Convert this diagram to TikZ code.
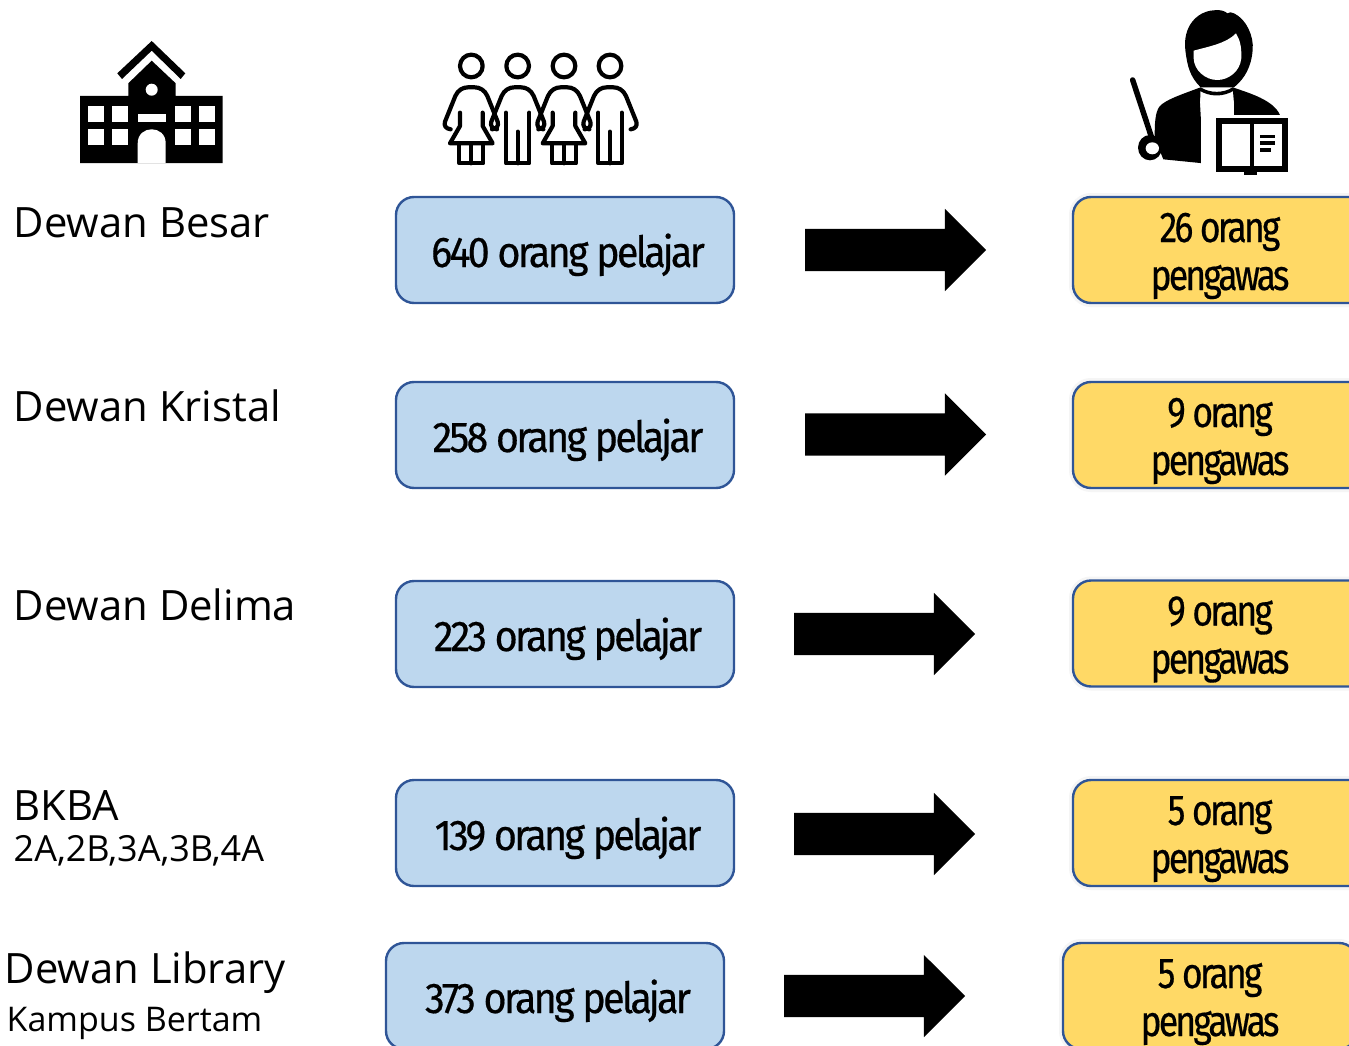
\documentclass[tikz,border=0pt]{standalone}
\usepackage{fontspec}
\setmainfont{Open Sans}
\newfontfamily\din[FakeStretch=0.92,LetterSpace=-6.5,FakeBold=0.4]{Fira Sans}
\newfontfamily\dinnarrow[FakeStretch=0.824,LetterSpace=-6.5,FakeBold=0.4]{Fira Sans}
\usetikzlibrary{shapes.arrows}
\definecolor{bluefill}{HTML}{BDD7EE}
\definecolor{yellowfill}{HTML}{FFD966}
\definecolor{boxedge}{HTML}{2F5597}
\newcommand\oneline[1]{\rule{0pt}{34pt}\hspace{6pt}\smash{#1}}
\newcommand\twolines[2]{\rule{0pt}{32pt}\smash{#1}\\\smash{#2}}
\tikzset{
  countbox/.style={draw=boxedge,line width=2.4pt,rounded corners=18pt,minimum height=106pt,inner sep=0pt,text=black,align=center},
  pupilbox/.style={countbox,font=\din\fontsize{43}{48}\selectfont,fill=bluefill,minimum width=338pt},
  wardenbox/.style={countbox,font=\dinnarrow\fontsize{43}{48}\selectfont,fill=yellowfill,minimum width=294pt,preaction={draw=black!4,line width=8pt}},
  blockarrow/.style={single arrow,anchor=tail,fill=black,draw=none,inner xsep=0pt,inner ysep=21pt,outer sep=0pt,minimum width=82pt,minimum height=181pt,single arrow head extend=20pt},
  biglabel/.style={anchor=base west,inner sep=0pt,font=\fontsize{41.8}{48}\selectfont},
  midlabel/.style={anchor=base west,inner sep=0pt,font=\fontsize{36}{40}\selectfont},
  smalllabel/.style={anchor=base west,inner sep=0pt,font=\fontsize{34}{40}\selectfont},
  stroke/.style={draw=black,line width=4.2pt,line cap=round,line join=round},
}
\begin{document}
\begin{tikzpicture}[x=1pt,y=-1pt]
\clip (0,0) rectangle (1349,1046);
\fill[white] (0,0) rectangle (1349,1046);
% school
\fill[black] (151.7,41)--(185.3,73.3)--(180.7,79)--(151.7,50.7)--(122,79)--(117.3,73.3)--cycle;
\fill[black] (80,96)--(128.3,96)--(128.3,83.3)--(151.7,60.7)--(175.7,83.3)--(175.7,96)--(222.7,96)--(222.7,163)--(80,163)--cycle;
\fill[white] (137.7,163)--(137.7,143.3) .. controls (137.7,124.6) and (165.7,124.6) .. (165.7,143.3)--(165.7,163)--cycle;
\fill[white] (151.7,89.7) circle[radius=6];
\foreach \wx in {88.3,112,175.3,199}\foreach \wy in {105.7,129.3}\fill[white] (\wx,\wy) rectangle ++(16,16);
\fill[white] (137.7,113.7) rectangle (165.7,121.7);
% pupils
\begin{scope}[shift={(430,40)},x=0.3333pt,y=-0.3333pt]
\foreach \cx in {124,263,402,540}{
  \draw[stroke] (\cx,78) circle[radius=34];
  \begin{scope}[shift={(\cx,0)}]
  \draw[stroke] (-62,268) .. controls (-76,266) and (-83,258) .. (-79,245) -- (-48,168) .. controls (-40,150) and (-25,142) .. (-10,142) -- (10,142) .. controls (25,142) and (40,150) .. (48,168) -- (79,245) .. controls (83,258) and (76,266) .. (62,268);
  \end{scope}
}
\foreach \cx in {124,402}{
  \begin{scope}[shift={(\cx,0)}]
  \draw[stroke] (-34,218)--(-34,258)--(-64,310)--(64,310)--(34,258)--(34,218);
  \draw[stroke] (-36,310)--(-36,370)--(36,370)--(36,310);
  \draw[stroke] (0,310)--(0,370);
  \end{scope}
}
\foreach \cx in {263,540}{
  \begin{scope}[shift={(\cx,0)}]
  \draw[stroke] (-35,218)--(-35,370)--(35,370)--(35,218);
  \draw[stroke] (0,275)--(0,370);
  \end{scope}
}
\end{scope}
% teacher
\begin{scope}[shift={(1110,0)},x=0.3333pt,y=-0.3333pt]
\fill[black] (272,262) .. controls (240,230) and (232,200) .. (226,150) .. controls (218,80) and (260,35) .. (310,31) .. controls (330,28) and (345,33) .. (352,40) .. controls (358,36) and (365,36) .. (372,40) .. controls (410,58) and (432,110) .. (428,150) .. controls (424,200) and (405,235) .. (372,262) -- cycle;
\fill[white] (251,152) .. controls (295,140) and (350,130) .. (378,100) .. controls (390,120) and (395,140) .. (394,175) .. controls (390,215) and (355,240) .. (322,240) .. controls (285,240) and (252,210) .. (251,175) -- cycle;
\fill[black] (272,262) .. controls (210,285) and (165,300) .. (148,320) .. controls (135,340) and (134,370) .. (134,415) -- (160,478) -- (280,490) -- (270,310) -- cycle;
\fill[black] (368,262) .. controls (420,280) and (490,300) .. (510,345) -- (372,345) -- (372,310) -- cycle;
\fill[white] (277,272) .. controls (300,290) and (340,290) .. (362,272) -- (372,310) .. controls (340,318) and (300,318) .. (270,310) -- cycle;
\fill[black] (272,262) .. controls (300,280) and (340,280) .. (368,262) -- (375,270) .. controls (340,292) and (300,292) .. (265,270) -- cycle;
\draw[black,line width=5.5pt,line cap=round] (68,240)--(124,410);
\fill[black] (120,443) ellipse[x radius=36,y radius=38];
\fill[white] (127,445) ellipse[x radius=20,y radius=18];
\fill[white] (272,345) rectangle (318,500);
\fill[black] (318,355) rectangle (535,515);
\fill[black] (403,510) rectangle (442,526);
\fill[white] (337,373) rectangle (419,497);
\fill[white] (432,373) rectangle (516,497);
\fill[black] (450,405) rectangle (495,415);
\fill[black] (450,424) rectangle (495,434);
\fill[black] (450,444) rectangle (484,455);
\end{scope}
% labels
\node[biglabel] (l1) at (13.5,237) {Dewan Besar};
\node[biglabel] (l2) at (13.5,421) {Dewan Kristal};
\node[biglabel] (l3) at (13.5,620) {Dewan Delima};
\node[biglabel] (l4) at (13.5,820) {BKBA};
\node[midlabel] (l4b) at (13.5,861) {2A,2B,3A,3B,4A};
\node[biglabel] (l5) at (4.5,983) {Dewan Library};
\node[smalllabel] (l5b) at (6.5,1031) {Kampus Bertam};
% pupil boxes
\node[pupilbox] (p1) at (565,250) {\oneline{640 orang pelajar}};
\node[pupilbox] (p2) at (565,435) {\oneline{258 orang pelajar}};
\node[pupilbox] (p3) at (565,634) {\oneline{223 orang pelajar}};
\node[pupilbox] (p4) at (565,833) {\oneline{139 orang pelajar}};
\node[pupilbox] (p5) at (555,996) {\oneline{373 orang pelajar}};
% warden boxes
\node[wardenbox] (w1) at (1220,250) {\twolines{26 orang}{pengawas}};
\node[wardenbox] (w2) at (1220,435) {\twolines{9 orang}{pengawas}};
\node[wardenbox] (w3) at (1220,633.5) {\twolines{9 orang}{pengawas}};
\node[wardenbox] (w4) at (1220,833) {\twolines{5 orang}{pengawas}};
\node[wardenbox] (w5) at (1210,996) {\twolines{5 orang}{pengawas}};
% arrows
\node[blockarrow] (a1) at (805,250) {};
\node[blockarrow] (a2) at (805,434.5) {};
\node[blockarrow] (a3) at (794,634) {};
\node[blockarrow] (a4) at (794,834) {};
\node[blockarrow] (a5) at (784,996) {};
\end{tikzpicture}
\end{document}
